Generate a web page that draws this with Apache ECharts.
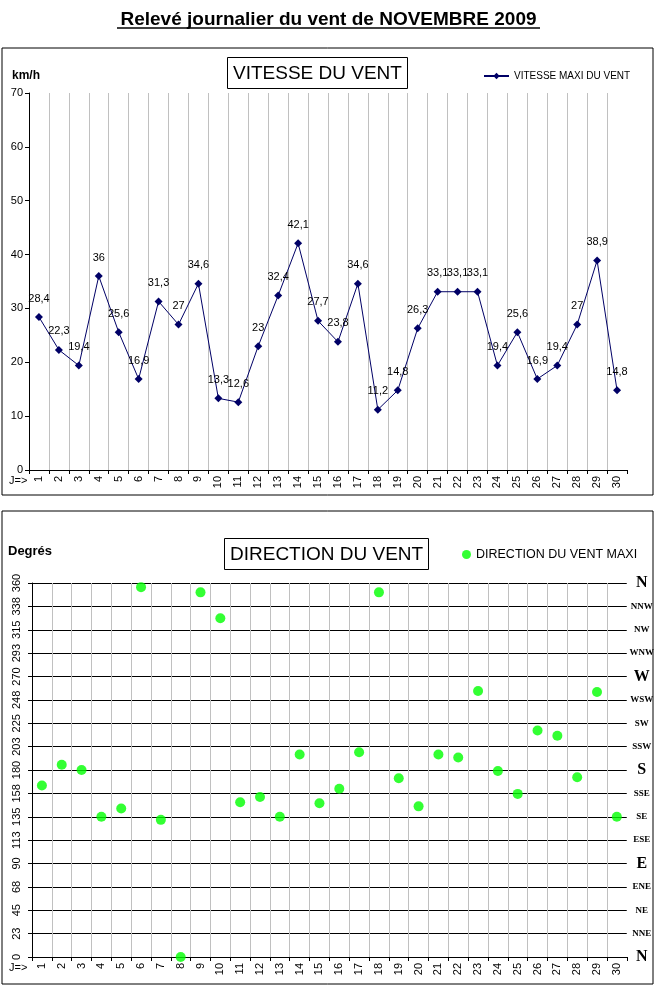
<!DOCTYPE html>
<html>
<head>
<meta charset="utf-8">
<script src="https://cdn.jsdelivr.net/npm/echarts@6/dist/echarts.min.js"></script>
<style>
html,body{margin:0;padding:0;background:#fff;}
#c{width:657px;height:990px;}
</style>
</head>
<body>
<div id="c"></div>
<script>
var days = ['1','2','3','4','5','6','7','8','9','10','11','12','13','14','15','16','17','18','19','20','21','22','23','24','25','26','27','28','29','30'];
var speedMax = [28.4,22.3,19.4,36,25.6,16.9,31.3,27,34.6,13.3,12.6,23,32.4,42.1,27.7,23.8,34.6,11.2,14.8,26.3,33.1,33.1,33.1,19.4,25.6,16.9,19.4,27,38.9,14.8];
var dirMax = [165,185,180,135,143,356,132,0,351,326,149,154,135,195,148,162,197,351,172,145,195,192,256,179,157,218,213,173,255,135];
var dirTickLabels = ['0','23','45','68','90','113','135','158','180','203','225','248','270','293','315','338','360'];
var compassLabels = ['N','NNE','NE','ENE','E','ESE','SE','SSE','S','SSW','SW','WSW','W','WNW','NW','NNW','N'];
var speedTicks = [0,10,20,30,40,50,60,70];

var FONT = 'Liberation Sans, Arial, sans-serif';
var SERIF = 'Liberation Serif, Times New Roman, serif';
var chart = echarts.init(document.getElementById('c'), null, {renderer:'canvas'});

function catAxis(gi){
  return {
    gridIndex:gi, type:'category', data: days, boundaryGap:true,
    axisLine:{show:true, lineStyle:{color:'#000', width:1}},
    axisTick:{show:true, interval:0, length:4, lineStyle:{color:'#000'}},
    axisLabel:{interval:0, rotate:90, fontSize:11, color:'#000', fontFamily:FONT, margin:6},
    splitLine:{show:true, interval:0, showMaxLine:false, lineStyle:{color:'#c0c0c0', width:1}}
  };
}

var option = {
  animation:false,
  backgroundColor:'#fff',
  textStyle:{fontFamily:FONT},
  title:[
    {text:'Relevé journalier du vent de NOVEMBRE 2009', left:'center', top:5,
     textStyle:{fontSize:19, fontWeight:'bold', color:'#000', fontFamily:FONT}},
    {text:'VITESSE DU VENT', left:227, top:57, padding:[7,6,6,6], borderColor:'#000', borderWidth:1,
     textStyle:{fontSize:19, fontWeight:'normal', color:'#000', fontFamily:FONT}},
    {text:'DIRECTION DU VENT', left:224, top:538, padding:[7,6,6,6], borderColor:'#000', borderWidth:1,
     textStyle:{fontSize:19, fontWeight:'normal', color:'#000', fontFamily:FONT}}
  ],
  legend:[
    {data:['VITESSE MAXI DU VENT'], left:478, top:66, itemWidth:25, itemHeight:8, itemGap:4,
     textStyle:{fontSize:10, color:'#000', fontFamily:FONT}},
    {data:['DIRECTION DU VENT MAXI'], left:457, top:543, icon:'circle', itemWidth:9, itemHeight:9, itemGap:3,
     textStyle:{fontSize:12.5, color:'#000', fontFamily:FONT}}
  ],
  grid:[
    {left:29, right:30, top:93, height:377, containLabel:false},
    {left:32, right:30, top:583, height:374, containLabel:false}
  ],
  xAxis:[catAxis(0), catAxis(1)],
  yAxis:[
    {gridIndex:0, type:'value', min:speedTicks[0], max:speedTicks[speedTicks.length-1], interval:10,
     axisLine:{show:true, lineStyle:{color:'#000'}},
     axisTick:{show:true, length:4, lineStyle:{color:'#000'}},
     axisLabel:{fontSize:11, color:'#000', fontFamily:FONT, margin:6},
     splitLine:{show:false}},
    {gridIndex:1, type:'value', min:0, max:360, interval:22.5,
     axisLine:{show:true, lineStyle:{color:'#000'}},
     axisTick:{show:true, length:4, lineStyle:{color:'#000'}},
     axisLabel:{rotate:90, fontSize:11, color:'#000', fontFamily:FONT, margin:10,
       formatter:function(v){ return dirTickLabels[Math.round(v/22.5)]; }},
     splitLine:{show:true, lineStyle:{color:'#000', width:1}}},
    {gridIndex:1, type:'value', min:0, max:360, interval:22.5, position:'right',
     axisLine:{show:false}, axisTick:{show:false}, splitLine:{show:false},
     axisLabel:{margin:15, align:'center',
       formatter:function(v){ var n = compassLabels[Math.round(v/22.5)]; return (n.length===1 ? '{big|'+n+'}' : '{sm|'+n+'}'); },
       rich:{
         big:{fontSize:16, fontWeight:'bold', color:'#000', fontFamily:SERIF},
         sm:{fontSize:9, fontWeight:'bold', color:'#000', fontFamily:SERIF}
       }}}
  ],
  series:[
    {name:'VITESSE MAXI DU VENT', type:'line', xAxisIndex:0, yAxisIndex:0, data:speedMax,
     symbol:'diamond', symbolSize:8, color:'#000066',
     lineStyle:{color:'#000066', width:1}, itemStyle:{color:'#000066'},
     label:{show:true, position:'top', distance:9, fontSize:11, color:'#000', fontFamily:FONT,
       formatter:function(p){ return String(p.value).replace('.', ','); }}},
    {name:'DIRECTION DU VENT MAXI', type:'scatter', xAxisIndex:1, yAxisIndex:1, data:dirMax,
     symbol:'circle', symbolSize:10, color:'#00ff00', itemStyle:{color:'#00ff00'}}
  ],
  graphic:[
    {type:'line', shape:{x1:117, y1:28, x2:540, y2:28}, style:{stroke:'#000', lineWidth:1.5}},
    {type:'rect', shape:{x:2, y:48, width:651, height:447}, style:{fill:null, stroke:'#000', lineWidth:1}, z:-1},
    {type:'rect', shape:{x:2, y:511, width:651, height:473}, style:{fill:null, stroke:'#000', lineWidth:1}, z:-1},
    {type:'text', left:12, top:70, style:{text:'km/h', font:'bold 12px '+FONT, fill:'#000'}},
    {type:'text', left:8, top:545, style:{text:'Degrés', font:'bold 13px '+FONT, fill:'#000'}},
    {type:'text', left:9, top:475, style:{text:'J=>', font:'11px '+FONT, fill:'#000'}},
    {type:'text', left:9, top:962, style:{text:'J=>', font:'11px '+FONT, fill:'#000'}}
  ]
};
chart.setOption(option);
</script>
</body>
</html>
